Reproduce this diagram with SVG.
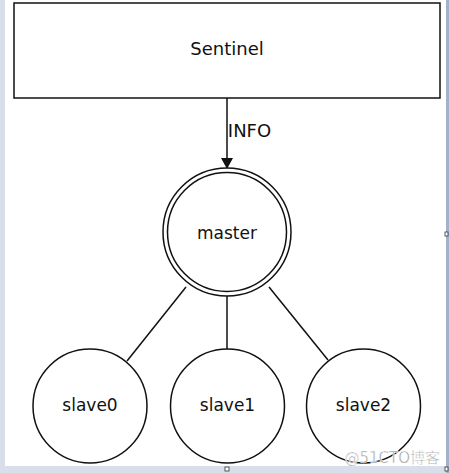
<svg xmlns="http://www.w3.org/2000/svg" width="449" height="473" viewBox="0 0 449 473">
<defs>
<style>
.n{fill:#fff;stroke:#111;stroke-width:1.5}
.t{font-family:"DejaVu Sans",sans-serif;font-size:17px;fill:#111;text-anchor:middle}
.c{stroke:#111;stroke-width:1.5;fill:none}
</style>
<marker id="ah" markerWidth="12" markerHeight="15" refX="11" refY="7" orient="auto" markerUnits="userSpaceOnUse" viewBox="0 0 12 14">
<path d="M0,1 L11,7 L0,13 Z" fill="#111"/>
</marker>
</defs>
<rect x="0" y="0" width="449" height="473" fill="#d8dfeb"/>
<rect x="5" y="0" width="441" height="466" fill="#fff"/>
<rect x="446" y="0" width="3" height="473" fill="#a4b1cd"/>
<g id="sentinel">
<rect class="n" x="14" y="3" width="426" height="95"/>
<text class="t" x="227" y="55" style="font-size:18px">Sentinel</text>
</g>
<g id="connectors">
<line class="c" x1="227" y1="98" x2="227" y2="169" marker-end="url(#ah)"/>
<text class="t" x="249.5" y="137" style="font-size:18px">INFO</text>
<line class="c" x1="186" y1="287" x2="127" y2="361"/>
<line class="c" x1="227" y1="296" x2="227" y2="349"/>
<line class="c" x1="269" y1="287" x2="328" y2="360"/>
</g>
<g id="master">
<circle class="n" cx="227" cy="232" r="64"/>
<circle class="n" cx="227" cy="232" r="59.5"/>
<text class="t" x="227" y="239">master</text>
</g>
<g id="slave0">
<circle class="n" cx="90" cy="406" r="57"/>
<text class="t" x="90" y="411">slave0</text>
</g>
<g id="slave1">
<circle class="n" cx="227.5" cy="406" r="57"/>
<text class="t" x="227.5" y="411">slave1</text>
</g>
<g id="slave2">
<circle class="n" cx="363.5" cy="406" r="57"/>
<text class="t" x="363.5" y="411">slave2</text>
</g>
<text x="440" y="463" text-anchor="end" style="font-family:'DejaVu Sans','Noto Sans CJK SC',sans-serif;font-size:15px;fill:#999;stroke:#fff;stroke-width:0.5">@51CTO博客</text>
<rect x="225" y="467" width="4" height="4" fill="#fff" stroke="#333" stroke-width="0.8"/>
<rect x="445" y="232" width="3" height="4" fill="#fff" stroke="#333" stroke-width="0.8"/>
<rect x="445" y="467" width="3" height="4" fill="#fff" stroke="#333" stroke-width="0.8"/>
</svg>
